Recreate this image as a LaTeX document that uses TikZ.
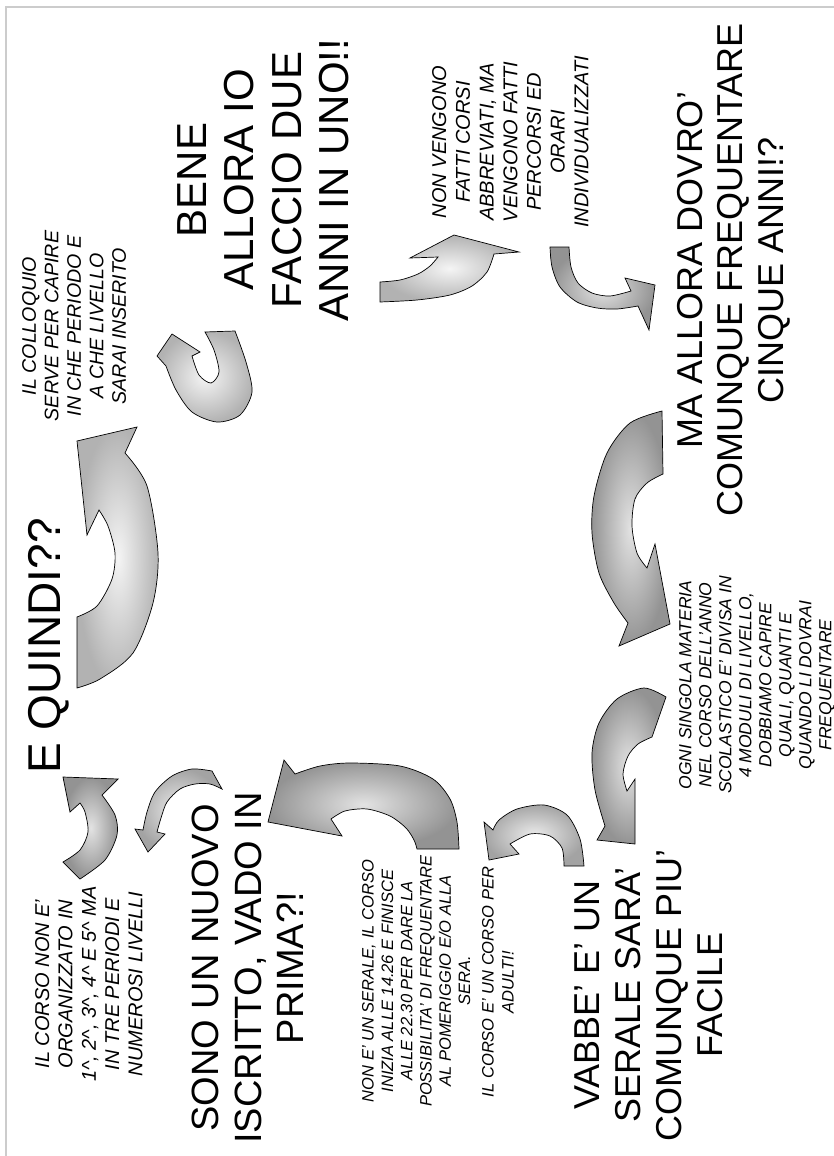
\documentclass[tikz,border=0pt]{standalone}
\usepackage{fontspec}
\setmainfont{Liberation Sans}
\definecolor{framegray}{gray}{0.8}
\tikzset{
  txt/.style={rotate=90, anchor=north, align=center, inner sep=0pt},
  note/.style={txt, font=\itshape\fontsize{20}{23.3}\selectfont},
  lightarrow/.style={draw=black, line width=0.7pt, inner color=gray!8, outer color=gray!60},
  midarrow/.style={draw=black, line width=0.7pt, inner color=gray!15, outer color=gray!72},
  darkarrow/.style={draw=black, line width=0.7pt, inner color=gray!22, outer color=gray!85},
}

\begin{document}
\begin{tikzpicture}[x=1pt,y=-1pt]
\useasboundingbox (0,0) rectangle (834,1156);
\draw[framegray, line width=1.5pt] (6,1160) -- (6,7) -- (840,7);
%
% questions
\node (quindi) [txt, font=\fontsize{46}{52}\selectfont] at (28,646) {E QUINDI??};
\node (bene) [txt, font=\fontsize{42}{47.5}\selectfont] at (177,180) {BENE\\ALLORA IO\\FACCIO DUE\\ANNI IN UNO!!};
\node (dovro) [txt, font=\fontsize{36}{40.5}\selectfont] at (677,270) {MA ALLORA DOVRO'\\COMUNQUE FREQUENTARE\\CINQUE ANNI!?};
\node (nuovo) [txt, font=\fontsize{38}{42.5}\selectfont] at (192,968) {SONO UN NUOVO\\ISCRITTO, VADO IN\\PRIMA?!};
\node (vabbe) [txt, font=\fontsize{36}{41}\selectfont] at (575,995) {VABBE' E' UN\\SERALE SARA'\\COMUNQUE PIU'\\FACILE};
%
% answers
\node (colloquio) [note, font=\itshape\fontsize{19.6}{22.5}\selectfont] at (22,326) {IL COLLOQUIO\\SERVE PER CAPIRE\\IN CHE PERIODO E\\A CHE LIVELLO\\SARAI INSERITO};
\node (vengono) [note, font=\itshape\fontsize{20}{23.7}\selectfont] at (432,142) {NON VENGONO\\FATTI CORSI\\ABBREVIATI, MA\\VENGONO FATTI\\PERCORSI ED\\ORARI\\INDIVIDUALIZZATI};
\node (materia) [note, font=\itshape\fontsize{17.5}{20}\selectfont] at (679,685) {OGNI SINGOLA MATERIA\\NEL CORSO DELL'ANNO\\SCOLASTICO E' DIVISA IN\\4 MODULI DI LIVELLO,\\DOBBIAMO CAPIRE\\QUALI, QUANTI E\\QUANDO LI DOVRAI\\FREQUENTARE};
\node (organizzato) [note] at (35,984) {IL CORSO NON E'\\ORGANIZZATO IN\\1\textasciicircum, 2\textasciicircum, 3\textasciicircum, 4\textasciicircum{} E 5\textasciicircum{} MA\\IN TRE PERIODI E\\NUMEROSI LIVELLI};
\node (serale) [note, font=\itshape\fontsize{16.5}{19.3}\selectfont] at (362,981) {NON E' UN SERALE, IL CORSO\\INIZIA ALLE 14.26 E FINISCE\\ALLE 22.30 PER DARE LA\\POSSIBILITA' DI FREQUENTARE\\AL POMERIGGIO E/O ALLA\\SERA.};
\node (adulti) [note, font=\itshape\fontsize{16.5}{20}\selectfont] at (482,982) {IL CORSO E' UN CORSO PER\\ADULTI!};
%
% curved arrows
\shadedraw[lightarrow] (77,441) -- (137,427) -- (125,453)
  -- plot[smooth] coordinates {(125,453) (147,486) (158,553) (153,603) (133,653) (100,679) (77,688)}
  -- (77,617)
  -- plot[smooth] coordinates {(77,617) (97,606) (112,579) (115,553) (108,526) (99,510)}
  -- (87,535) -- cycle;
\shadedraw[lightarrow] (205,332) -- (235,331)
  -- plot[smooth] coordinates {(235,331) (246,362) (252,392) (240,415) (217,422) (192,412) (176,390) (166,366)}
  -- (157,356) -- (172,334) -- (200,352) -- (192,356)
  -- plot[smooth] coordinates {(192,356) (199,375) (211,383) (219,372) (214,350) (205,332)}
  -- cycle;
\shadedraw[lightarrow] (380,282) -- (380,302)
  -- plot[smooth] coordinates {(380,302) (417,300) (450,295) (472,286) (487,272) (494,254)}
  -- (519,252) -- (454,235) -- (410,258) -- (438,257)
  -- plot[smooth] coordinates {(438,257) (430,266) (418,274) (400,280) (380,282)}
  -- cycle;
\shadedraw[darkarrow] (550,247) -- (569,247)
  -- plot[smooth] coordinates {(569,247) (571,267) (578,283) (592,293) (610,296) (631,291)}
  -- (625,278) -- (655,285) -- (649,330) -- (638,306)
  -- plot[smooth] coordinates {(638,306) (617,309) (597,308) (577,302) (560,287) (552,267) (550,247)}
  -- cycle;
\shadedraw[darkarrow] (662,411)
  -- plot[smooth] coordinates {(662,411) (630,423) (607,453) (594,496) (592,533) (599,573) (614,603) (628,623)}
  -- (619,646) -- (670,624) -- (655,544) -- (647,568)
  -- plot[smooth] coordinates {(647,568) (637,553) (632,526) (635,499) (647,483) (663,474)}
  -- cycle;
\shadedraw[darkarrow] (666,697)
  -- plot[smooth] coordinates {(666,697) (644,688) (617,699) (599,723) (592,753) (595,790) (605,826)}
  -- (597,840) -- (635,844) -- (635,779) -- (627,791)
  -- plot[smooth] coordinates {(627,791) (623,774) (628,756) (638,744) (652,737)}
  -- cycle;
\shadedraw[darkarrow] (459,849)
  -- plot[smooth] coordinates {(459,849) (457,822) (450,799) (433,779) (400,766) (350,763) (320,766) (295,774)}
  -- (284,760) -- (268,822) -- (342,836) -- (331,819)
  -- plot[smooth] coordinates {(331,819) (345,811) (367,809) (390,816) (406,828) (414,840) (417,849)}
  -- cycle;
\shadedraw[midarrow] (584,866)
  -- plot[smooth] coordinates {(584,866) (580,839) (567,815) (544,805) (517,809) (499,820) (493,830)}
  -- (484,822) -- (489,860) -- (519,854) -- (510,844)
  -- plot[smooth] coordinates {(510,844) (530,834) (550,836) (562,848) (564,866)}
  -- cycle;
\shadedraw[darkarrow] (63,777) -- (118,779) -- (102,795)
  -- plot[smooth] coordinates {(102,795) (115,815) (117,835) (105,860) (80,879)}
  -- (63,862)
  -- plot[smooth] coordinates {(63,862) (80,850) (88,832) (85,812) (80,803)}
  -- (70,812) -- cycle;
\shadedraw[midarrow] (212,771) -- (222,789)
  -- plot[smooth] coordinates {(222,789) (210,784) (195,784) (180,789) (167,802) (161,818) (157,832)}
  -- (165,834) -- (148,852) -- (135,829) -- (143,830)
  -- plot[smooth] coordinates {(143,830) (147,812) (155,792) (172,776) (192,769) (212,771)}
  -- cycle;
\end{tikzpicture}
\end{document}
